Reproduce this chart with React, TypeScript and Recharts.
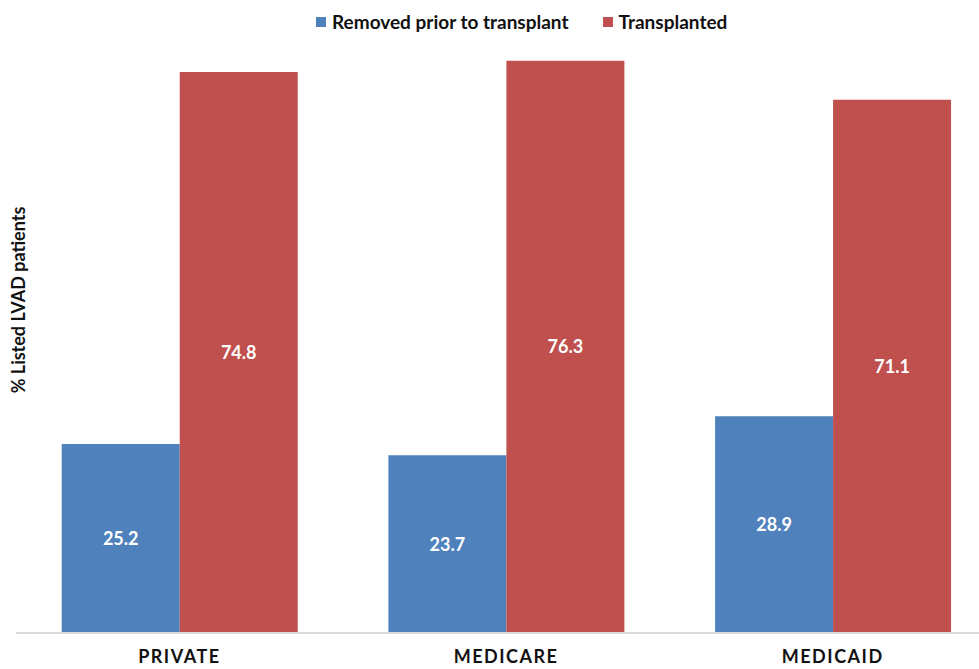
import React from 'react';
import { BarChart, Bar, XAxis, YAxis, LabelList } from 'recharts';

const categories = ['PRIVATE', 'MEDICARE', 'MEDICAID'];
const removedValues = [25.2, 23.7, 28.9];
const transplantedValues = [74.8, 76.3, 71.1];
const seriesNames = ['Removed prior to transplant', 'Transplanted'];
const yAxisLabel = '% Listed LVAD patients';

const BLUE = '#4F81BD';
const RED = '#C0504D';
const FONT = 'Lato, "Open Sans", sans-serif';

const data = categories.map((name, i) => ({
  name,
  removed: removedValues[i],
  transplanted: transplantedValues[i],
}));

const CategoryTick = (props: any) => {
  const { x, y, payload } = props;
  return (
    <text
      x={x}
      y={y}
      dy={22}
      textAnchor="middle"
      fill="#111"
      fontSize={18}
      fontWeight={700}
      fontFamily={FONT}
      letterSpacing={1.5}
    >
      {payload.value}
    </text>
  );
};

const YTitle = () => (
  <text
    x={25}
    y={300}
    transform="rotate(-90 25 300)"
    textAnchor="middle"
    fill="#111"
    fontSize={18}
    fontWeight={700}
    fontFamily={FONT}
  >
    {yAxisLabel}
  </text>
);

const legendItems = [
  { name: seriesNames[0], color: BLUE },
  { name: seriesNames[1], color: RED },
];

export default function App() {
  return (
    <div style={{ position: 'absolute', left: 0, top: 0, width: 979, height: 669, overflow: 'hidden', background: '#fff' }}>
      <div
        style={{
          position: 'absolute',
          top: 10,
          left: 316,
          display: 'flex',
          gap: 34,
          fontFamily: FONT,
          fontWeight: 700,
          fontSize: 19,
          color: '#111',
          zIndex: 2,
        }}
      >
        {legendItems.map((it) => (
          <div key={it.name} style={{ display: 'flex', alignItems: 'center', gap: 6 }}>
            <span style={{ width: 10, height: 10, background: it.color, display: 'inline-block' }} />
            <span>{it.name}</span>
          </div>
        ))}
      </div>
      <BarChart
        width={996}
        height={669}
        data={data}
        margin={{ top: 33, right: 0, left: 0, bottom: 0 }}
        barCategoryGap="14%"
        barGap={0}
      >
        <XAxis
          dataKey="name"
          axisLine={{ stroke: '#d9d9d9', strokeWidth: 2 }}
          tickLine={false}
          height={36}
          tick={<CategoryTick />}
          interval={0}
        />
        <YAxis
          width={16}
          domain={[0, 80]}
          tick={false}
          axisLine={false}
          tickLine={false}
          label={{ content: <YTitle /> }}
        />
        <Bar dataKey="removed" name={seriesNames[0]} fill={BLUE} isAnimationActive={false}>
          <LabelList
            dataKey="removed"
            position="center"
            fill="#fff"
            fontSize={18}
            fontWeight={700}
            fontFamily={FONT}
          />
        </Bar>
        <Bar dataKey="transplanted" name={seriesNames[1]} fill={RED} isAnimationActive={false}>
          <LabelList
            dataKey="transplanted"
            position="center"
            fill="#fff"
            fontSize={18}
            fontWeight={700}
            fontFamily={FONT}
          />
        </Bar>
      </BarChart>
    </div>
  );
}
